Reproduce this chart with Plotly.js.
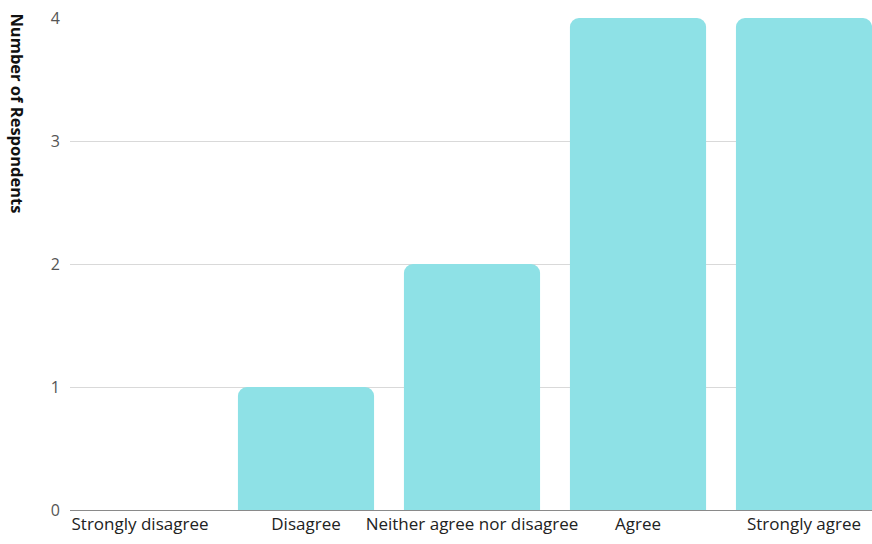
<!DOCTYPE html>
<html>
<head>
<meta charset="utf-8">
<script src="https://cdn.plot.ly/plotly-3.0.1.min.js"></script>
<style>
  html, body { margin: 0; padding: 0; background: #fff; }
  #chart { width: 872px; height: 544px; }
</style>
</head>
<body>
<div id="chart"></div>
<script>
// Survey responses per answer option
const categories = ['Strongly disagree', 'Disagree', 'Neither agree nor disagree', 'Agree', 'Strongly agree'];
const respondents = [0, 1, 2, 4, 4];
const yTicks = [0, 1, 2, 3, 4];
const yTitle = 'Number of Respondents';

const trace = {
  type: 'bar',
  x: categories.map((_, i) => i),
  y: respondents,
  marker: { color: '#8ee1e6', line: { width: 0 } },
  hoverinfo: 'skip'
};

const layout = {
  width: 872,
  height: 544,
  margin: { l: 70, r: 0, t: 18, b: 34, pad: 0 },
  paper_bgcolor: '#ffffff',
  plot_bgcolor: '#ffffff',
  bargap: 0.18,
  barcornerradius: 9,
  showlegend: false,
  font: { family: 'Open Sans, sans-serif', color: '#333' },
  xaxis: {
    range: [-0.4217, 4.4096],
    tickmode: 'array',
    tickvals: categories.map((_, i) => i),
    ticktext: categories,
    tickfont: { size: 17, color: '#222' },
    showgrid: false,
    zeroline: false,
    showline: false,
    ticks: '',
    ticklabelstandoff: 2,
    fixedrange: true
  },
  yaxis: {
    range: [0, 4],
    tickmode: 'array',
    tickvals: yTicks,
    ticktext: yTicks.map(String),
    tickfont: { size: 16, color: '#555' },
    showgrid: true,
    gridcolor: '#d9d9d9',
    gridwidth: 1,
    zeroline: true,
    zerolinecolor: '#8a8a8a',
    zerolinewidth: 1,
    showline: false,
    ticks: '',
    ticklabelstandoff: 9,
    fixedrange: true
  },
  // Axis title sits near the top of the axis, reading downward
  annotations: [{
    text: '<b>' + yTitle + '</b>',
    xref: 'paper', yref: 'paper',
    x: -0.0648, y: 0.806,
    xanchor: 'center', yanchor: 'middle',
    textangle: 90,
    showarrow: false,
    font: { size: 16.5, color: '#111', family: 'Open Sans, sans-serif' }
  }]
};

Plotly.newPlot('chart', [trace], layout, { displayModeBar: false, staticPlot: true });
</script>
</body>
</html>
